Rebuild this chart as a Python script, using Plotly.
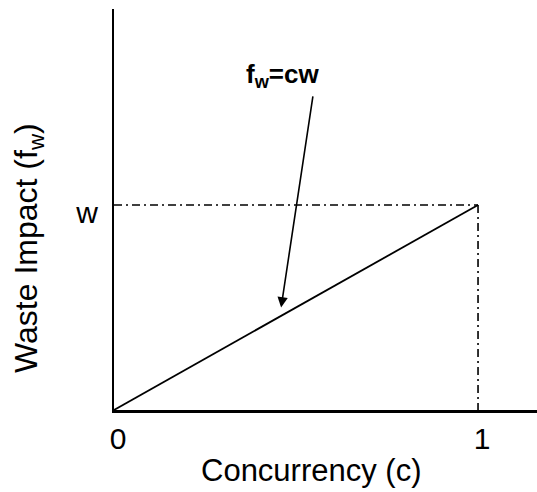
import plotly.graph_objects as go

# ---- data ----
c_vals = [0, 1]            # concurrency c
fw_vals = [0, 1]           # waste impact f_w = c*w (w normalised to 1)
guide_h_c = [0, 1]         # dash-dot guide at level w
guide_h_fw = [1, 1]
guide_v_c = [1, 1]         # dash-dot guide at c = 1
guide_v_fw = [1, 0]
x_tick_vals = [0, 1]
x_tick_text = ["0", "1"]
y_tick_vals = [1]
y_tick_text = ["w"]
arrow_head = (0.459, 0.50)
arrow_tail = (0.547, 1.537)

FONT = "Arial, Liberation Sans, Helvetica, sans-serif"

fig = go.Figure()
fig.add_trace(go.Scatter(x=guide_h_c, y=guide_h_fw, mode="lines",
                         line=dict(color="black", width=1.6, dash="8px,4px,2px,4px"),
                         showlegend=False, hoverinfo="skip"))
fig.add_trace(go.Scatter(x=guide_v_c, y=guide_v_fw, mode="lines",
                         line=dict(color="black", width=1.6, dash="8px,4px,2px,4px"),
                         showlegend=False, hoverinfo="skip"))
fig.add_trace(go.Scatter(x=c_vals, y=fw_vals, mode="lines",
                         line=dict(color="black", width=1.8),
                         showlegend=False, hoverinfo="skip"))

fig.add_annotation(x=arrow_head[0], y=arrow_head[1], ax=arrow_tail[0], ay=arrow_tail[1],
                   xref="x", yref="y", axref="x", ayref="y", text="",
                   showarrow=True, arrowhead=2, arrowsize=1.3, arrowwidth=1.6,
                   arrowcolor="black")
fig.add_annotation(x=0.464, y=1.63, xref="x", yref="y", showarrow=False,
                   xanchor="center", yanchor="middle",
                   text="<b>f<sub>w</sub>=cw</b>",
                   font=dict(family=FONT, size=26, color="black"))

fig.add_annotation(x=0.466, y=-0.152, xref="paper", yref="paper", showarrow=False,
                   xanchor="center", yanchor="middle",
                   text="Concurrency (c)", font=dict(family=FONT, size=31, color="black"))
fig.add_annotation(x=-0.201, y=0.404, xref="paper", yref="paper", showarrow=False,
                   xanchor="center", yanchor="middle",
                   textangle=-90, text="Waste Impact (f<sub>w</sub>)",
                   font=dict(family=FONT, size=32, color="black"))

fig.update_layout(
    width=537, height=492,
    margin=dict(l=114, r=0, t=9, b=82),
    paper_bgcolor="white", plot_bgcolor="white",
    xaxis=dict(range=[0, 1.162], showgrid=False, zeroline=False, showline=True,
               linecolor="black", linewidth=3, ticks="",
               tickvals=x_tick_vals, ticktext=x_tick_text, ticklabelstandoff=0,
               ticklabelshift=4,
               tickfont=dict(family=FONT, size=30, color="black")),
    yaxis=dict(range=[0, 1.956], showgrid=False, zeroline=False, showline=True,
               linecolor="black", linewidth=2, ticks="",
               tickvals=y_tick_vals, ticktext=y_tick_text, ticklabelstandoff=8,
               ticklabelshift=8,
               tickfont=dict(family=FONT, size=30, color="black")),
)

fig.write_html("out.html", config={"displayModeBar": False},
               post_script="document.body.style.margin='0';")
